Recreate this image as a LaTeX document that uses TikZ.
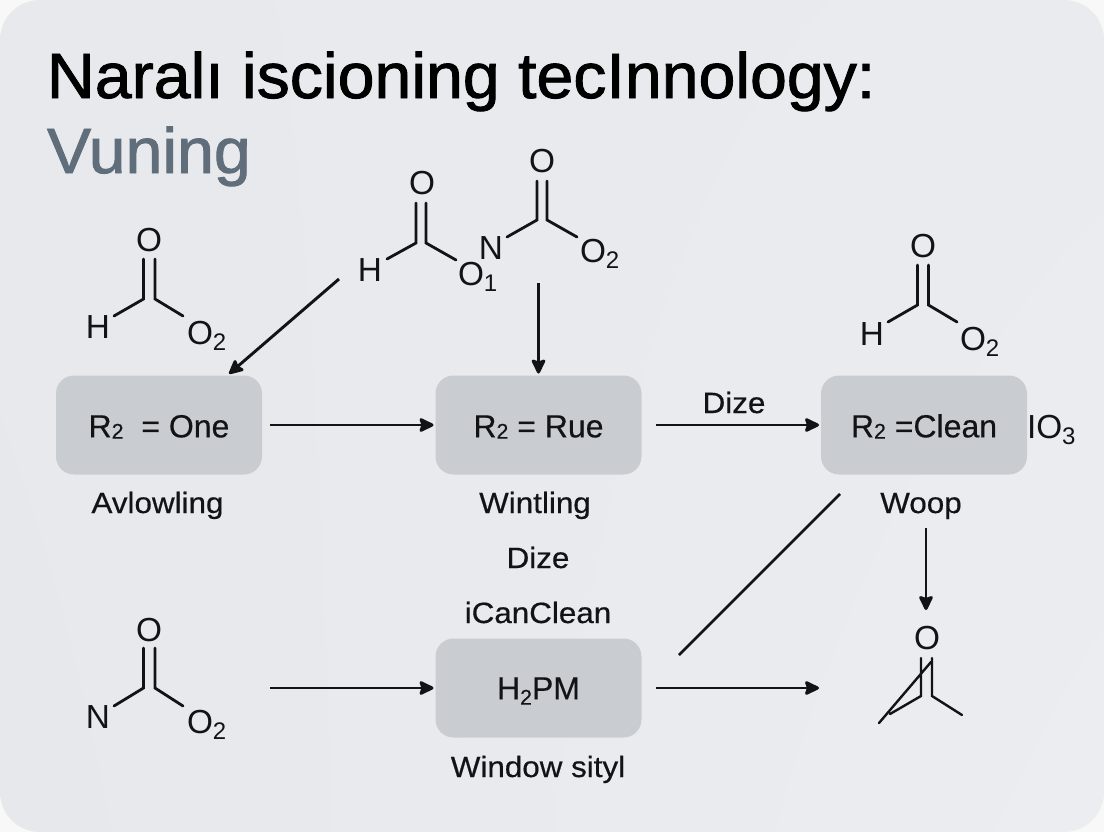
\documentclass[tikz,border=0pt]{standalone}
\usepackage{fontspec}
\setmainfont{Liberation Sans}
\newfontfamily\titleface{Liberation Sans}[FakeBold=1.4,FakeStretch=1.035]
\newfontfamily\labelface{Liberation Sans}[FakeBold=0.5,FakeStretch=1.07]
\newfontfamily\boxface{Liberation Sans}[FakeBold=0.3]
\usetikzlibrary{arrows.meta,shadings}
\definecolor{bgUL}{HTML}{E7E9ED}
\definecolor{bgUR}{HTML}{EAEBEF}
\definecolor{bgLL}{HTML}{E6E8EC}
\definecolor{bgLR}{HTML}{ECEDF0}
\definecolor{bgOut}{HTML}{F8F8F9}
\definecolor{boxc}{HTML}{C9CDD1}
\definecolor{ink}{HTML}{111315}
\definecolor{sub}{HTML}{5F6E7A}
\newcommand{\sbs}[1]{{\fontsize{18pt}{18pt}\selectfont\raisebox{-5pt}{#1}}}
\newcommand{\bsb}[1]{{\fontsize{16pt}{16pt}\selectfont\raisebox{-1pt}{#1}}}
\newcommand{\lsb}[1]{{\fontsize{16pt}{16pt}\selectfont\raisebox{-4pt}{#1}}}
\tikzset{
 x=0.75pt,y=-0.75pt,
 every node/.style={inner sep=0pt,outer sep=0pt,text=ink},
 stepbox/.style={fill=boxc,rounded corners=13.5pt,minimum width=154.5pt,minimum height=74.25pt,text height=18.5pt,text depth=0pt,font=\boxface\fontsize{24pt}{28pt}\selectfont},
 lab/.style={anchor=base,font=\labelface\fontsize{22pt}{26pt}\selectfont},
 atom/.style={font=\fontsize{25pt}{29pt}\selectfont},
 bond/.style={draw=ink,line width=2.1pt,line cap=round},
 arr/.style={draw=ink,line width=2.2pt,-{Stealth[length=12.5pt,width=12pt,inset=2pt,round]}},
 thin line/.style={draw=ink,line width=1.8pt,line cap=round}
}
\begin{document}
\begin{tikzpicture}
\useasboundingbox (0,0) rectangle (1104,832);
\fill[bgOut] (0,0) rectangle (1104,832);
\shade[upper left=bgUL,upper right=bgUR,lower left=bgLL,lower right=bgLR,rounded corners=30pt] (0,0) rectangle (1104,832);
% title
\node[anchor=base west,font=\titleface\fontsize{48pt}{52pt}\selectfont,text=black] (title) at (47,98) {Naralı iscioning tecInnology:};
\node[anchor=base west,font=\titleface\fontsize{48pt}{52pt}\selectfont,text=sub] (subtitle) at (47,173) {Vuning};
% boxes
\node[stepbox] (box1) at (159,425) {R\bsb{2}\ \ = One};
\node[stepbox] (box2) at (538.5,425) {R\bsb{2} = Rue};
\node[stepbox] (box3) at (924,425) {R\bsb{2} =Clean};
\node[stepbox,text height=17pt] (box4) at (538.5,688) {H\lsb{2}PM};
% labels
\node[lab] (l1) at (157.5,513) {Avlowling};
\node[lab] (l2) at (535,513) {Wintling};
\node[lab] (l3) at (538,568) {Dize};
\node[lab] (l4) at (538,623) {iCanClean};
\node[lab] (l5) at (538,777) {Window sityl};
\node[lab] (l6) at (921,513) {Woop};
\node[lab] (l7) at (734,413) {Dize};
\node[atom,anchor=base west] (io3) at (1027,438) {IO\sbs{3}};
% molecule 1
\node[atom] (m1o) at (149,240) {O};
\node[atom] (m1h) at (98,327) {H};
\node[atom,anchor=base west] (m1r) at (187,344) {O\sbs{2}};
\coordinate (m1a) at (143.5,299); \coordinate (m1b) at (155,299);
\coordinate (m1at) at (143.5,259); \coordinate (m1bt) at (155,259);
\coordinate (m1hb) at (114,316); \coordinate (m1rb) at (183,316);
\draw[bond] (m1hb)--(m1a)--(m1at) (m1bt)--(m1b)--(m1rb);
% molecule top
\node[atom] (t1o) at (422,183) {O};
\node[atom] (t1h) at (370,270) {H};
\node[atom,anchor=base west] (t1r) at (458,285) {O\sbs{1}};
\node[atom] (t2n) at (491,248) {N};
\node[atom] (t2o) at (542,161) {O};
\node[atom,anchor=base west] (t2r) at (580,262) {O\sbs{2}};
\coordinate (t1a) at (416,243); \coordinate (t1b) at (426,243);
\coordinate (t1at) at (416,203); \coordinate (t1bt) at (426,203);
\coordinate (t1hb) at (387,259); \coordinate (t1rb) at (456,260);
\draw[bond] (t1hb)--(t1a)--(t1at) (t1bt)--(t1b)--(t1rb);
\coordinate (t2a) at (537,220); \coordinate (t2b) at (547,220);
\coordinate (t2at) at (537,181); \coordinate (t2bt) at (547,181);
\coordinate (t2hb) at (507,237); \coordinate (t2rb) at (577,237);
\draw[bond] (t2hb)--(t2a)--(t2at) (t2bt)--(t2b)--(t2rb);
% molecule right
\node[atom] (m3o) at (923,246) {O};
\node[atom] (m3h) at (872,334) {H};
\node[atom,anchor=base west] (m3r) at (960,350) {O\sbs{2}};
\coordinate (m3a) at (917.5,305); \coordinate (m3b) at (928.5,305);
\coordinate (m3at) at (917.5,265); \coordinate (m3bt) at (928.5,265);
\coordinate (m3hb) at (888,322); \coordinate (m3rb) at (957,322);
\draw[bond] (m3hb)--(m3a)--(m3at) (m3bt)--(m3b)--(m3rb);
% molecule bottom left
\node[atom] (m4o) at (149,630) {O};
\node[atom] (m4n) at (98,717) {N};
\node[atom,anchor=base west] (m4r) at (187,733) {O\sbs{2}};
\coordinate (m4a) at (143.5,688); \coordinate (m4b) at (155,688);
\coordinate (m4at) at (143.5,648); \coordinate (m4bt) at (155,648);
\coordinate (m4nb) at (114,706); \coordinate (m4rb) at (183,706);
\draw[bond] (m4nb)--(m4a)--(m4at) (m4bt)--(m4b)--(m4rb);
% molecule bottom right
\node[atom] (m5o) at (927,638) {O};
\coordinate (m5at) at (921,658); \coordinate (m5a) at (921,696); \coordinate (m5al) at (890,714);
\coordinate (m5bt) at (932,658); \coordinate (m5b) at (932,696); \coordinate (m5br) at (962,715);
\coordinate (m5dt) at (931,662); \coordinate (m5db) at (879,723);
\draw[thin line] (m5at)--(m5a)--(m5al) (m5bt)--(m5b)--(m5br) (m5dt)--(m5db);
% connectors
\coordinate (a1s) at (339,279);
\coordinate (a2s) at (538.5,283);
\coordinate (a5s) at (926,528); \coordinate (a5e) at (926,610);
\coordinate (a6s) at (270,688);
\coordinate (a7e) at (819,688);
\coordinate (d1) at (840,494); \coordinate (d2) at (679,655);
\draw[arr,shorten >=2pt] (a1s) -- (box1.36);
\draw[arr,shorten >=1.5pt] (a2s) -- (box2.north);
\draw[arr,shorten <=6pt,shorten >=1.5pt] (box1) -- (box2);
\draw[arr,shorten <=11pt,shorten >=1.5pt] (box2) -- (box3);
\draw[arr] (a5s) -- (a5e);
\draw[arr,shorten >=1.5pt] (a6s) -- (box4);
\draw[arr,shorten <=11pt] (box4) -- (a7e);
\draw[bond,line cap=butt] (d1) -- (d2);
\end{tikzpicture}
\end{document}
